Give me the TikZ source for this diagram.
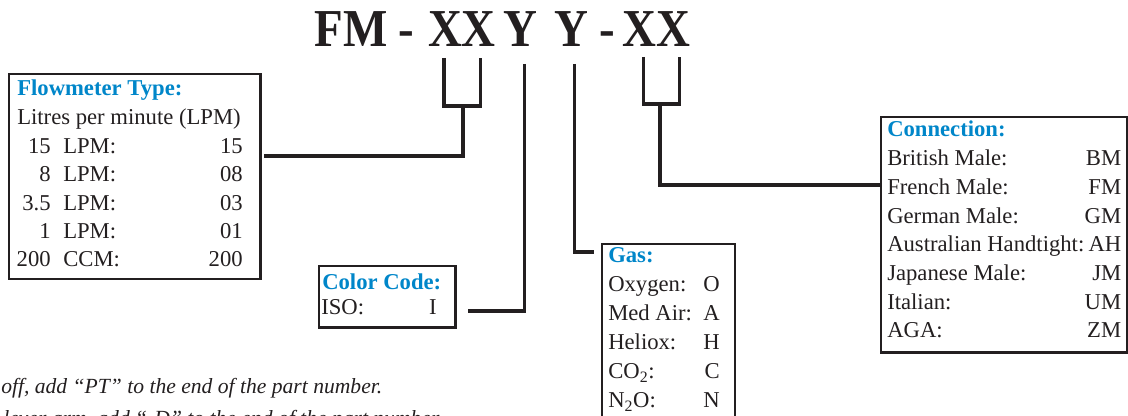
\documentclass[tikz,border=0pt]{standalone}
\usepackage{fontspec}
\setmainfont{Liberation Serif}
\newfontfamily\partfont[FakeStretch=0.88]{Liberation Serif}
\usetikzlibrary{calc,fit}
\definecolor{ink}{HTML}{231F20}
\definecolor{codeblue}{RGB}{0,134,201}

\begin{document}
\begin{tikzpicture}[x=0.75pt,y=-0.75pt,
    infobox/.style={draw=ink, line width=1.7pt, inner sep=0pt},
    lead/.style={draw=ink, line width=2.5pt},
    hd/.style={anchor=base west, inner sep=0pt, text=codeblue, font=\fontsize{17}{21}\selectfont\bfseries},
    txt/.style={anchor=base west, inner sep=0pt, text=ink, font=\fontsize{17}{21}\selectfont},
    val/.style={txt, anchor=base east},
    code/.style={anchor=base, inner sep=0pt, text=ink, font=\partfont\fontsize{40}{42}\selectfont\bfseries},
    note/.style={anchor=base west, inner sep=0pt, text=ink, font=\fontsize{16.2}{19}\selectfont\itshape}]
  \useasboundingbox (0,0) rectangle (1128,416);
  \clip (0,0) rectangle (1128,416);

  % Part number
  \node[code] (fm) at (351,46.7) {FM};
  \node[code] (dasha) at (406,46.7) {-};
  \node[code] (xxa) at (462,46.7) {XX};
  \node[code] (ya) at (520,46.7) {Y};
  \node[code] (yb) at (571,46.7) {Y};
  \node[code] (dashb) at (607,46.7) {-};
  \node[code] (xxb) at (656,46.7) {XX};

  % Option boxes
  \node[infobox, fit={(9,74) (260.5,279)}] (flow) {};
  \node[infobox, fit={(319,266) (455.5,327.5)}] (color) {};
  \node[infobox, fit={(602,244) (735,440)}] (gas) {};
  \node[infobox, fit={(881,117) (1127,352.5)}] (conn) {};

  % Flowmeter type
  \node[hd] (flowhd) at (17,96) {Flowmeter Type:};
  \node[txt] (flowsub) at (17,125) {Litres per minute (LPM)};
  \foreach \n/\u/\v [count=\i] in {15/LPM/15, 8/LPM/08, 3.5/LPM/03, 1/LPM/01, 200/CCM/200} {
    \node[val] (fn\i) at (51,{125+28.4*\i}) {\n};
    \node[txt] (fu\i) at (63,{125+28.4*\i}) {\u:};
    \node[val] (fv\i) at (243,{125+28.4*\i}) {\v};
  }

  % Color code
  \node[hd] (colorhd) at (322,290) {Color Code:};
  \node[txt] (iso) at (321,315) {ISO:};
  \node[val] (isov) at (437,315) {I};

  % Gas
  \node[hd] (gashd) at (608,263) {Gas:};
  \foreach \g/\v [count=\i] in {Oxygen:/O, Med Air:/A, Heliox:/H, CO\textsubscript{2}:/C, N\textsubscript{2}O:/N} {
    \node[txt] (gn\i) at (608,{263+29*\i}) {\g};
    \node[val] (gv\i) at (720,{263+29*\i}) {\v};
  }

  % Connection
  \node[hd] (connhd) at (887,137) {Connection:};
  \foreach \c/\v [count=\i] in {British Male:/BM, French Male:/FM, German Male:/GM,
      Australian Handtight:/AH, Japanese Male:/JM, Italian:/UM, AGA:/ZM} {
    \node[txt] (cn\i) at (887,{137+28.7*\i}) {\c};
    \node[val] (cv\i) at (1121.5,{137+28.7*\i}) {\v};
  }

  % Brackets and leads
  \coordinate (xa1) at (444,58);
  \coordinate (xa2) at (480.5,58);
  \coordinate (xa) at (463,106);
  \draw[lead] (xa1) -- ++(0,48) -| (xa2);
  \draw[lead] (xa) |- ($(flow.north east)+(2.5,83)$);

  \coordinate (ya1) at (524.5,64);
  \draw[lead] (ya1) |- ($(color.north east)+(11.5,46)$);

  \coordinate (yb1) at (574.5,64);
  \draw[lead] (yb1) |- ($(gas.north west)+(-7,9)$);

  \coordinate (xb1) at (643.5,57);
  \coordinate (xb2) at (679.5,57);
  \coordinate (xb) at (660,104);
  \draw[lead] (xb1) -- ++(0,47) -| (xb2);
  \draw[lead] (xb) |- (conn.west |- 0,185);

  % Notes
  \node[note] (notea) at (1,394) {off, add “PT” to the end of the part number.};
  \node[note] (noteb) at (3,426) {lever arm, add “-D” to the end of the part number.};
\end{tikzpicture}
\end{document}
